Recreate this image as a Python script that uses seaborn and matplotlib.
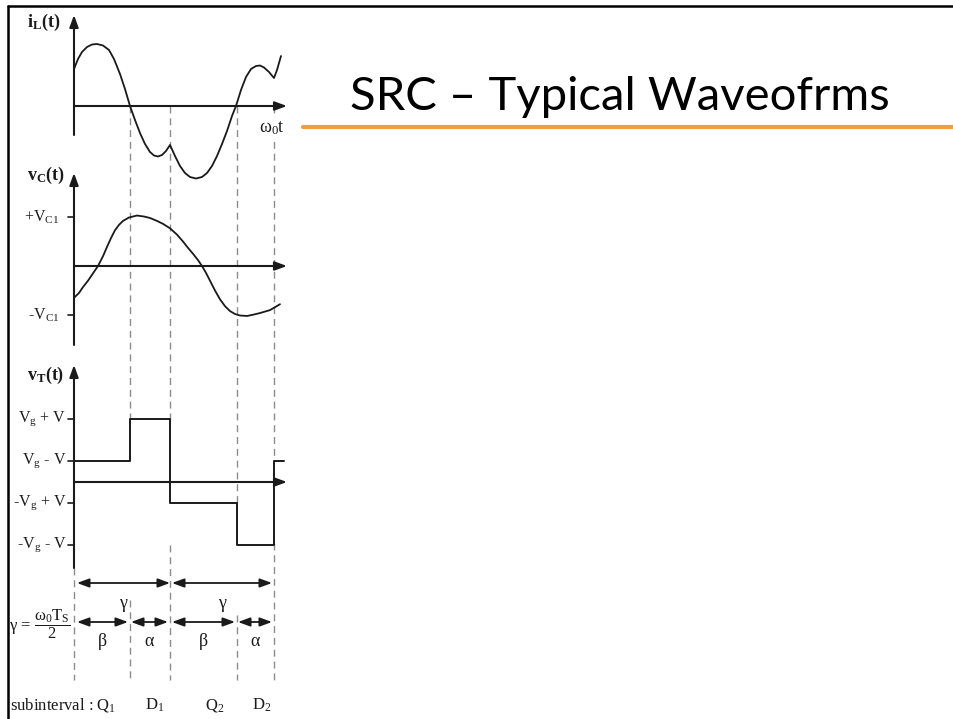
import numpy as np
import pandas as pd
import seaborn as sns
import matplotlib.pyplot as plt
from matplotlib.lines import Line2D

# ---- data (omega0*t in arbitrary units, 0 = start of Q1) ----
t_bounds = [0.0, 5.6, 9.6, 16.3, 20.0]
sub_names = ['D$_1$', 'Q$_2$', 'D$_2$']
sub_pos = [8.1, 14.1, 18.8]

# inductor current i_L(t)
iL_t = [0.0, 0.4, 0.8, 1.3, 1.8, 2.3, 2.9, 3.5, 4.0, 4.6, 5.1, 5.6, 6.1, 6.6,
        7.1, 7.6, 8.0, 8.4, 8.8, 9.2, 9.6, 10.1, 10.6, 11.1, 11.6, 12.2, 12.8,
        13.3, 13.8, 14.3, 14.8, 15.3, 15.8, 16.2, 16.7, 17.2, 17.7, 18.2, 18.6,
        19.0, 19.5, 20.0, 20.3, 20.7]
iL_v = [3.7, 4.7, 5.4, 5.9, 6.15, 6.2, 6.05, 5.6, 4.7, 3.2, 1.7, 0.0, -1.4, -2.7,
        -3.8, -4.6, -4.95, -5.05, -4.9, -4.5, -3.9, -5.0, -6.0, -6.7, -7.1, -7.25, -7.1,
        -6.7, -6.0, -5.0, -3.8, -2.5, -1.0, 0.0, 1.6, 2.9, 3.7, 4.0, 4.05,
        3.85, 3.4, 2.8, 3.6, 5.0]

# capacitor voltage v_C(t) in units of V_C1
vc_t = [0.0, 0.5, 0.9, 1.4, 1.9, 2.4, 2.9, 3.3, 3.7, 4.1, 4.5, 4.9, 5.5, 6.3,
        7.0, 7.6, 8.3, 8.9, 9.6, 10.3, 10.9, 11.4, 11.9, 12.4, 12.8, 13.2, 13.6,
        14.1, 14.6, 15.1, 15.6, 16.1, 16.6, 17.3, 18.0, 18.6, 19.6, 20.6]
vc_v = [-0.65, -0.55, -0.43, -0.3, -0.15, 0.0, 0.2, 0.39, 0.57, 0.73, 0.84, 0.92, 0.99, 1.03,
        1.01, 0.98, 0.92, 0.86, 0.77, 0.64, 0.5, 0.37, 0.25, 0.12, 0.0, -0.14, -0.3,
        -0.5, -0.68, -0.82, -0.92, -0.98, -1.01, -1.02, -0.99, -0.96, -0.9, -0.78]
vc_levels = [1, -1]
vc_labels = ['+V$_{\\mathrm{C1}}$', '-V$_{\\mathrm{C1}}$']

# tank voltage v_T(t), with Vg = 2, V = 1
vt_t = [0.0, 5.6, 9.6, 16.3, 20.0, 21.0]
vt_v = [1, 3, -1, -3, 1, 1]
vt_levels = [3, 1, -1, -3]
vt_labels = ['V$_\\mathrm{g}$ + V', 'V$_\\mathrm{g}$ - V', '-V$_\\mathrm{g}$ + V', '-V$_\\mathrm{g}$ - V']

# ---- style ----
sns.set_theme(style='white')
plt.rcParams['font.family'] = ['Liberation Serif', 'DejaVu Serif']
plt.rcParams['mathtext.fontset'] = 'custom'
plt.rcParams['mathtext.rm'] = 'Liberation Serif'
plt.rcParams['mathtext.it'] = 'Liberation Serif:italic'
plt.rcParams['mathtext.bf'] = 'Liberation Serif:bold'

W, H = 954, 719
COL_W = 300
X0, XS = 74, 10.0           # px of t=0, px per t unit
T_END = (287 - X0) / XS
INK = '#1a1a1a'
DASH = '#8c8c8c'
FS = 11.5
FS_BIG = 13

fig = plt.figure(figsize=(W / 100, H / 100), dpi=100)
fig.patch.set_facecolor('white')


def make_panel(top, bottom, zero, scale):
    ax = fig.add_axes([0, 1 - bottom / H, COL_W / W, (bottom - top) / H])
    ax.set_xlim(-X0 / XS, (COL_W - X0) / XS)
    ax.set_ylim((zero - bottom) / scale, (zero - top) / scale)
    ax.set_axis_off()
    return ax


def axis_arrows(ax):
    y0, y1 = ax.get_ylim()
    ap = dict(arrowstyle='-|>,head_length=0.6,head_width=0.22', color=INK, lw=1.5,
              shrinkA=0, shrinkB=0)
    ax.annotate('', xy=(0, y1), xytext=(0, y0), arrowprops=ap, annotation_clip=False)
    ax.annotate('', xy=(T_END, 0), xytext=(0, 0), arrowprops=ap, annotation_clip=False)


def level_ticks(ax, levels, labels, xlab):
    for lv, lb in zip(levels, labels):
        ax.plot([-0.6, 0], [lv, lv], color=INK, lw=1.2, clip_on=False)
        ax.text(xlab, lv, lb, ha='right', va='center', fontsize=FS, color=INK)


# overlay in px (y) for dashed guides, labels and interval arrows
ov = fig.add_axes([0, 0, COL_W / W, 1])
ov.set_xlim(-X0 / XS, (COL_W - X0) / XS)
ov.set_ylim(H, 0)
ov.set_axis_off()

guides = {t_bounds[1]: [(106, 419), (600, 680)],
          t_bounds[2]: [(106, 419), (545, 680)],
          t_bounds[3]: [(106, 504), (615, 680)],
          t_bounds[4]: [(106, 461), (543, 680)],
          t_bounds[0]: [(568, 680)]}
for tb, segs in guides.items():
    for a, b in segs:
        ov.plot([tb, tb], [a, b], color=DASH, lw=1.0, ls=(0, (5, 3.5)), zorder=1)

# i_L panel
ax1 = make_panel(15, 135, 106, 10)
axis_arrows(ax1)
sns.lineplot(x=iL_t, y=iL_v, ax=ax1, color=INK, lw=1.3, estimator=None, clip_on=False)

# v_C panel
ax2 = make_panel(173, 345, 266, 49)
axis_arrows(ax2)
level_ticks(ax2, vc_levels, vc_labels, -1.5)
sns.lineplot(x=vc_t, y=vc_v, ax=ax2, color=INK, lw=1.3, estimator=None, clip_on=False)

# v_T panel
ax3 = make_panel(365, 568, 482, 21)
axis_arrows(ax3)
level_ticks(ax3, vt_levels, vt_labels, -0.75)
sns.lineplot(x=vt_t, y=vt_v, ax=ax3, color=INK, lw=1.4, estimator=None,
             drawstyle='steps-post', clip_on=False)

# panel names
ov.text(-4.7, 22, '$\\mathbf{i_L(t)}$', ha='left', va='center', fontsize=FS_BIG, color=INK)
ov.text(-4.7, 175, '$\\mathbf{v_C(t)}$', ha='left', va='center', fontsize=FS_BIG, color=INK)
ov.text(-4.7, 375, '$\\mathbf{v_T(t)}$', ha='left', va='center', fontsize=FS_BIG, color=INK)
ov.text(18.5, 128, '$\\mathrm{\\omega_0}$t', ha='left', va='center', fontsize=FS_BIG, color=INK,
        bbox=dict(facecolor='white', edgecolor='none', pad=0.5), zorder=5)

# interval arrows
dap = dict(arrowstyle='<|-|>,head_length=0.6,head_width=0.22', color=INK, lw=1.3,
           shrinkA=0, shrinkB=0)
gamma_spans = [(0.3, 9.6), (9.8, 19.8)]
for a, b in gamma_spans:
    ov.annotate('', xy=(b, 583), xytext=(a, 583), arrowprops=dap)
    ov.text((a + b) / 2, 603, 'γ', ha='center', va='center', fontsize=FS_BIG, color=INK)
ab_spans = [(0.3, 5.4, 'β'), (5.7, 9.4, 'α'), (9.8, 16.1, 'β'), (16.4, 19.8, 'α')]
for a, b, s in ab_spans:
    ov.annotate('', xy=(b, 622), xytext=(a, 622), arrowprops=dap)
    ov.text((a + b) / 2, 642, s, ha='center', va='center', fontsize=FS_BIG, color=INK)

ov.text(-6.5, 624, 'γ = $\\dfrac{\\mathrm{\\omega_0 T_S}}{2}$', ha='left', va='center',
        fontsize=FS + 0.5, color=INK)
ov.text(-6.4, 705, 'subinterval : Q$_1$', ha='left', va='center', fontsize=FS + 0.5, color=INK)
for p, s in zip(sub_pos, sub_names):
    ov.text(p, 705, s, ha='center', va='center', fontsize=FS + 0.5, color=INK)

# slide frame, title and orange rule
fig.add_artist(Line2D([8 / W, 1], [1 - 6 / H, 1 - 6 / H], color='black', lw=1.8))
fig.add_artist(Line2D([8 / W, 8 / W], [0, 1 - 6 / H], color='black', lw=1.8))
fig.text(350 / W, 1 - 110 / H, 'SRC – Typical Waveofrms', fontsize=34, family='Lato',
         ha='left', va='baseline', color='black')
fig.add_artist(Line2D([303 / W, 1], [1 - 127 / H, 1 - 127 / H], color='#F59D3D', lw=3))

fig.savefig('out.png', dpi=100)
